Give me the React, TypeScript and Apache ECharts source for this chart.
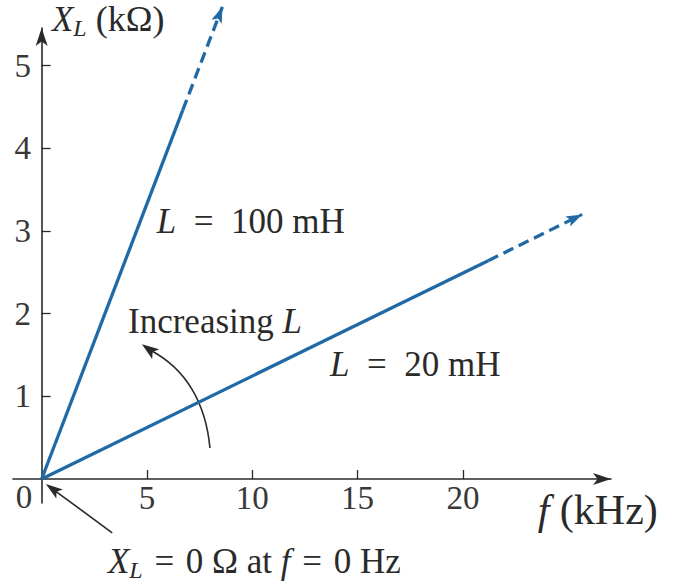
import { useEffect, useRef } from 'react';
import * as echarts from 'echarts';

// Frequency axis (kHz) and reactance axis (kΩ)
const xTicks = [5, 10, 15, 20];
const yTicks = [1, 2, 3, 4, 5];
const xRange = [-1.36, 27.03];
const yRange = [-0.29, 5.454];

// L = 100 mH: solid run from the origin, then a dashed continuation ending in an arrow
const l100Solid = [[0, 0], [6.7, 4.46]];
const l100Dashed = [[6.7, 4.46], [8.58, 5.71]];
// L = 20 mH
const l20Solid = [[0, 0], [21.2, 2.64]];
const l20Dashed = [[21.2, 2.64], [25.66, 3.2]];

// Annotation anchors in (kHz, kΩ)
const label100At = [5.47, 3.11];
const label20At = [13.69, 1.38];
const increasingAt = [4.1, 1.9];
const originNoteAt = [3.15, -1.0];
const xNameAt = [23.55, -0.38];
const yNameAt = [0.49, 5.56];
const zeroAt = [-0.84, -0.22];
const originArrowFrom = [3.35, -0.65];
const originArrowTip = [0.2, -0.06];
// Curved "increasing L" arrow: start, two control points, end, tip
const curveStart = [7.99, 0.375];
const curveCp1 = [7.8, 0.9];
const curveCp2 = [6.9, 1.33];
const curveEnd = [5.14, 1.56];
const curveTip = [4.76, 1.63];

const BLUE = '#1f6aa6';
const INK = '#2a2a2a';
const SERIF = '"Liberation Serif", "Times New Roman", serif';
const FS = 35;
const TICK_FS = 33;

const rich = {
  i: { fontStyle: 'italic', fontFamily: SERIF, fontSize: FS, fill: INK },
  s: { fontStyle: 'italic', fontFamily: SERIF, fontSize: 24, fill: INK, padding: [17, 0, 0, 0] },
  n: { fontStyle: 'italic', fontFamily: SERIF, fontSize: 42, fill: INK },
  b: { fontFamily: SERIF, fontSize: 42, fill: INK },
};

function arrowHead(tip: number[], from: number[], len: number, halfW: number) {
  const dx = tip[0] - from[0];
  const dy = tip[1] - from[1];
  const d = Math.hypot(dx, dy) || 1;
  const ux = dx / d;
  const uy = dy / d;
  const bx = tip[0] - ux * len;
  const by = tip[1] - uy * len;
  return [
    [tip[0], tip[1]],
    [bx - uy * halfW, by + ux * halfW],
    [tip[0] - ux * len * 0.78, tip[1] - uy * len * 0.78],
    [bx + uy * halfW, by - ux * halfW],
  ];
}

function lineSeries(name: string, data: number[][], dashed: boolean) {
  return {
    name,
    type: 'line',
    data,
    symbol: 'none',
    clip: false,
    silent: true,
    lineStyle: { color: BLUE, width: 3.3, type: dashed ? [11, 6] : 'solid' },
  };
}

export default function App() {
  const ref = useRef<HTMLDivElement>(null);

  useEffect(() => {
    const chart = echarts.init(ref.current!, null, { renderer: 'svg' });
    const axisLineStyle = { color: INK, width: 1.6 };
    const tickLabel = { fontFamily: SERIF, fontSize: TICK_FS, color: '#383838' };

    chart.setOption({
      animation: false,
      backgroundColor: '#ffffff',
      grid: { left: 13, right: 62, top: 28, bottom: 82, outerBoundsMode: 'none', containLabel: false },
      xAxis: {
        type: 'value',
        min: xRange[0],
        max: xRange[1],
        axisLine: { show: true, onZero: true, lineStyle: axisLineStyle, symbol: ['none', 'arrow'], symbolSize: [9, 18] },
        axisTick: { show: true, inside: true, length: 9, customValues: xTicks, lineStyle: { color: INK, width: 1.3 } },
        axisLabel: { show: true, customValues: xTicks, margin: -22, ...tickLabel },
        splitLine: { show: false },
      },
      yAxis: {
        type: 'value',
        min: yRange[0],
        max: yRange[1],
        axisLine: { show: true, onZero: true, lineStyle: axisLineStyle, symbol: ['none', 'arrow'], symbolSize: [9, 18] },
        axisTick: { show: true, inside: true, length: 9, customValues: yTicks, lineStyle: { color: INK, width: 1.3 } },
        axisLabel: { show: true, customValues: yTicks, margin: -18, ...tickLabel },
        splitLine: { show: false },
      },
      series: [
        lineSeries('L = 100 mH', l100Solid, false),
        lineSeries('L = 100 mH (extended)', l100Dashed, true),
        lineSeries('L = 20 mH', l20Solid, false),
        lineSeries('L = 20 mH (extended)', l20Dashed, true),
      ],
    });

    const px = (v: number[]) => chart.convertToPixel({ gridIndex: 0 }, v) as number[];
    const text = (at: number[], t: string, align = 'left', size = FS, fill = INK) => {
      const p = px(at);
      return {
        type: 'text',
        x: p[0],
        y: p[1],
        silent: true,
        style: {
          text: t,
          rich,
          fontFamily: SERIF,
          fontSize: size,
          fill,
          align,
          verticalAlign: 'middle',
        },
      };
    };

    const s = px(curveStart);
    const c1 = px(curveCp1);
    const c2 = px(curveCp2);
    const e = px(curveEnd);
    const tip = px(curveTip);
    const oa = px(originArrowFrom);
    const ot = px(originArrowTip);
    const tip100 = px(l100Dashed[1]);
    const from100 = px(l100Dashed[0]);
    const tip20 = px(l20Dashed[1]);
    const from20 = px(l20Dashed[0]);

    chart.setOption({
      graphic: [
        text(yNameAt, '{i|X}{s|L} (kΩ)', 'left', 36),
        text(label100At, '{i|L}\u2002=\u2002100 mH'),
        text(label20At, '{i|L}\u2002=\u200220 mH'),
        text(increasingAt, 'Increasing {i|L}'),
        text(xNameAt, '{n|f}\u2005{b|(kHz)}', 'left', 42),
        text(originNoteAt, '{i|X}{s|L}\u2004=\u20040 Ω at {i|f}\u2004=\u20040 Hz'),
        text(zeroAt, '0', 'center', TICK_FS, '#383838'),
        {
          type: 'polygon',
          silent: true,
          shape: { points: arrowHead(tip100, from100, 16, 5.5) },
          style: { fill: BLUE },
        },
        {
          type: 'polygon',
          silent: true,
          shape: { points: arrowHead(tip20, from20, 16, 5.5) },
          style: { fill: BLUE },
        },
        {
          type: 'bezierCurve',
          silent: true,
          shape: { x1: s[0], y1: s[1], cpx1: c1[0], cpy1: c1[1], cpx2: c2[0], cpy2: c2[1], x2: e[0], y2: e[1] },
          style: { stroke: INK, lineWidth: 1.6, fill: 'none' },
        },
        {
          type: 'polygon',
          silent: true,
          shape: { points: arrowHead(tip, e, 17, 6) },
          style: { fill: INK },
        },
        {
          type: 'line',
          silent: true,
          shape: { x1: oa[0], y1: oa[1], x2: ot[0] + (oa[0] - ot[0]) * 0.15, y2: ot[1] + (oa[1] - ot[1]) * 0.15 },
          style: { stroke: INK, lineWidth: 1.6 },
        },
        {
          type: 'polygon',
          silent: true,
          shape: { points: arrowHead(ot, oa, 17, 5.5) },
          style: { fill: INK },
        },
      ],
    });

    return () => chart.dispose();
  }, []);

  return (
    <div
      ref={ref}
      style={{ position: 'absolute', left: 0, top: 0, width: 673, height: 585, background: '#ffffff' }}
    />
  );
}
